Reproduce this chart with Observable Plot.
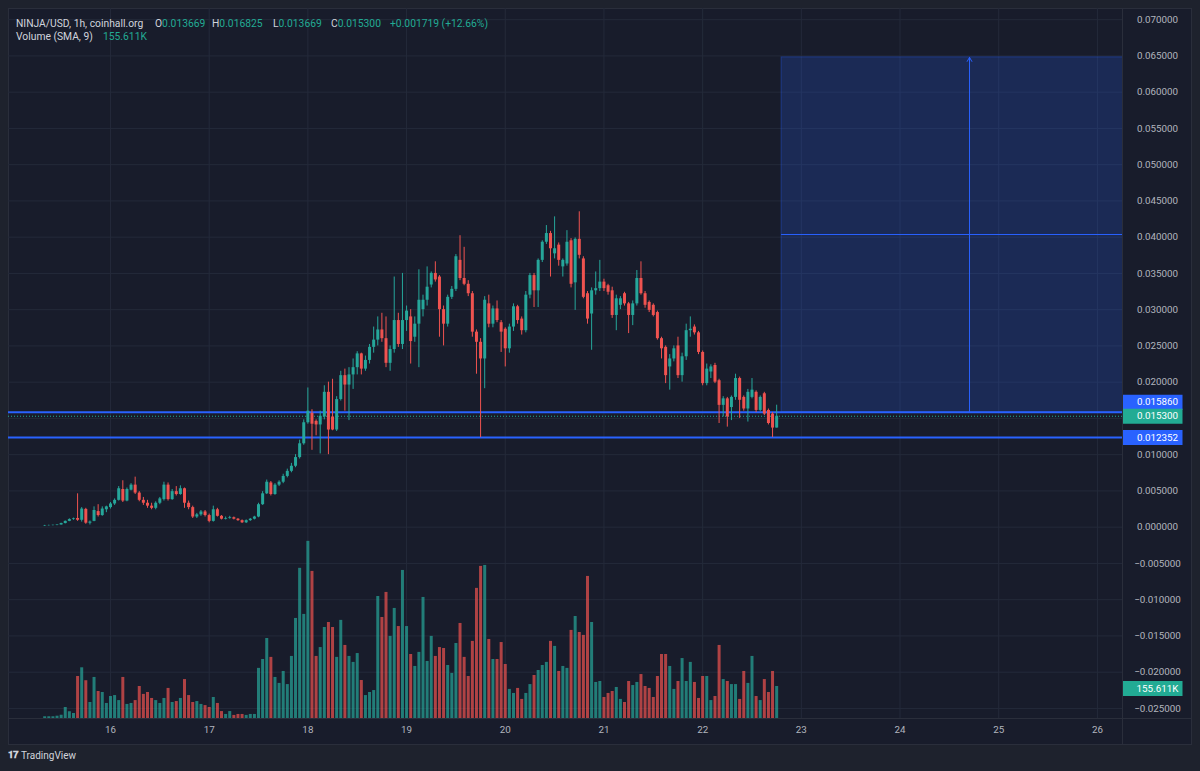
<!DOCTYPE html>
<html><head><meta charset="utf-8">
<script src="https://cdn.jsdelivr.net/npm/d3@7"></script>
<script src="https://cdn.jsdelivr.net/npm/@observablehq/plot@0.6"></script>
<style>
html,body{margin:0;padding:0;background:#1e222d;width:1200px;height:771px;overflow:hidden;font-family:Roboto,"Liberation Sans",sans-serif;}
#pane{position:absolute;left:8px;top:8px;width:1184px;height:737px;box-sizing:border-box;background:#181c2b;border:1px solid #2a2e3b;}
#sepV{position:absolute;left:1122px;top:8px;width:1px;height:737px;background:#2a2e3b;}
#sepH{position:absolute;left:8px;top:718px;width:1184px;height:1px;background:#2a2e3b;}
.layer{position:absolute;left:8px;top:8px;}
#vol{pointer-events:none;}
.hd{position:absolute;font-size:10.3px;line-height:13px;color:#d1d4dc;white-space:pre;}
.hd .v{color:#22ab94;}
#footer{position:absolute;left:8px;top:749px;font-size:10px;color:#d1d4dc;display:flex;align-items:center;gap:3px;}
#footer b{font-size:10px;letter-spacing:-1px;}
</style></head>
<body>
<div id="pane"></div>
<div id="price" class="layer"></div>
<div id="vol" class="layer"></div>
<div id="sepV"></div><div id="sepH"></div>
<div class="hd" style="left:16px;top:17px">NINJA/USD, 1h, coinhall.org</div>
<div class="hd" style="left:155px;top:17px">O<span class="v">0.013669</span></div>
<div class="hd" style="left:212px;top:17px">H<span class="v">0.016825</span></div>
<div class="hd" style="left:273px;top:17px">L<span class="v">0.013669</span></div>
<div class="hd" style="left:331px;top:17px">C<span class="v">0.015300</span></div>
<div class="hd" style="left:390px;top:17px"><span class="v">+0.001719 (+12.66%)</span></div>
<div class="hd" style="left:16px;top:30px">Volume (SMA, 9)</div>
<div class="hd" style="left:103px;top:30px"><span class="v">155.611K</span></div>
<div id="footer"><b>𝟏𝟕</b><span>TradingView</span></div>
<script>
// ---- data (hourly candles, first candle 15 Jul 08:00 UTC) ----
const open = [0.00015,0.00020,0.00022,0.00025,0.00030,0.00050,0.00080,0.00105,0.00120,0.00095,0.00245,0.00055,0.00080,0.00215,0.00160,0.00240,0.00270,0.00320,0.00370,0.00520,0.00360,0.00510,0.00580,0.00470,0.00370,0.00330,0.00290,0.00260,0.00330,0.00380,0.00580,0.00380,0.00490,0.00450,0.00530,0.00330,0.00270,0.00140,0.00170,0.00210,0.00160,0.00080,0.00240,0.00150,0.00110,0.00120,0.00130,0.00110,0.00090,0.00060,0.00090,0.00110,0.00140,0.00310,0.00460,0.00610,0.00450,0.00580,0.00620,0.00700,0.00770,0.00840,0.00960,0.01150,0.01440,0.01570,0.01460,0.01410,0.01520,0.01860,0.01520,0.01340,0.01760,0.02090,0.01960,0.02100,0.02200,0.02390,0.02180,0.02300,0.02480,0.02580,0.02720,0.02600,0.02260,0.02450,0.02850,0.02520,0.02850,0.02900,0.02620,0.02800,0.03000,0.03130,0.03340,0.03500,0.03450,0.03000,0.02800,0.03170,0.03280,0.03680,0.03430,0.03350,0.03220,0.02690,0.02550,0.02320,0.03080,0.02800,0.03010,0.02820,0.02730,0.02460,0.02760,0.03040,0.02870,0.02710,0.03200,0.03470,0.03260,0.03680,0.03930,0.04050,0.03770,0.03890,0.03590,0.03630,0.03950,0.03370,0.03970,0.03700,0.03220,0.02940,0.03260,0.03290,0.03380,0.03330,0.03260,0.02920,0.03060,0.03220,0.03080,0.02920,0.03080,0.03430,0.03220,0.03100,0.03060,0.02960,0.02600,0.02480,0.02210,0.02320,0.02500,0.02090,0.02350,0.02710,0.02760,0.02680,0.02410,0.01980,0.02140,0.02230,0.02020,0.01680,0.01770,0.01650,0.01790,0.02050,0.01790,0.01630,0.01790,0.01860,0.01610,0.01840,0.01610,0.01560,0.013669];
const high = [0.00025,0.00028,0.00030,0.00035,0.00055,0.00085,0.00115,0.00125,0.00460,0.00270,0.00260,0.00085,0.00280,0.00310,0.00280,0.00290,0.00340,0.00390,0.00560,0.00640,0.00540,0.00600,0.00690,0.00490,0.00410,0.00370,0.00330,0.00350,0.00410,0.00620,0.00610,0.00520,0.00560,0.00570,0.00540,0.00360,0.00290,0.00190,0.00230,0.00230,0.00180,0.00290,0.00260,0.00160,0.00140,0.00150,0.00140,0.00120,0.00100,0.00100,0.00120,0.00150,0.00330,0.00490,0.00650,0.00630,0.00600,0.00640,0.00730,0.00800,0.00880,0.01000,0.01200,0.01480,0.01920,0.01620,0.01480,0.01600,0.01950,0.02000,0.02040,0.01800,0.02150,0.02180,0.02200,0.02320,0.02420,0.02400,0.02360,0.02520,0.02760,0.02900,0.02950,0.02900,0.02500,0.03450,0.02950,0.03500,0.03050,0.03000,0.02900,0.03550,0.03200,0.03590,0.03520,0.03660,0.03470,0.03050,0.03200,0.03320,0.03760,0.04020,0.03860,0.03400,0.03250,0.02720,0.02600,0.03180,0.03200,0.03050,0.03120,0.02850,0.02750,0.02800,0.03080,0.03060,0.02900,0.03250,0.03500,0.03500,0.03700,0.03950,0.04160,0.04080,0.04280,0.03920,0.03700,0.04090,0.03980,0.03990,0.04350,0.03730,0.03250,0.03300,0.03520,0.03680,0.03420,0.03350,0.03310,0.03200,0.03180,0.03240,0.03100,0.03120,0.03540,0.03660,0.03250,0.03120,0.03080,0.02980,0.02620,0.02500,0.02380,0.02500,0.02620,0.02400,0.02800,0.02900,0.02790,0.02700,0.02430,0.02250,0.02240,0.02260,0.02040,0.01800,0.01790,0.01810,0.02110,0.02070,0.01810,0.01900,0.02050,0.01880,0.01810,0.01860,0.01630,0.01580,0.016825];
const low = [0.00010,0.00015,0.00018,0.00020,0.00028,0.00045,0.00075,0.00095,0.00080,0.00070,0.00040,0.00030,0.00075,0.00140,0.00150,0.00200,0.00250,0.00300,0.00360,0.00340,0.00350,0.00500,0.00450,0.00350,0.00300,0.00260,0.00240,0.00240,0.00310,0.00360,0.00360,0.00370,0.00430,0.00440,0.00260,0.00240,0.00120,0.00120,0.00150,0.00140,0.00060,0.00070,0.00140,0.00100,0.00100,0.00110,0.00100,0.00080,0.00050,0.00050,0.00080,0.00100,0.00130,0.00300,0.00450,0.00430,0.00440,0.00560,0.00600,0.00680,0.00750,0.00820,0.00940,0.01130,0.01420,0.01060,0.01260,0.01010,0.01480,0.01000,0.01330,0.01320,0.01740,0.01600,0.01470,0.01900,0.02100,0.02100,0.02150,0.02250,0.02400,0.02500,0.02550,0.02200,0.02150,0.02400,0.02480,0.02450,0.02700,0.02250,0.02550,0.02200,0.02900,0.03050,0.03300,0.03380,0.02620,0.02500,0.02760,0.03140,0.03250,0.03400,0.03330,0.03180,0.02620,0.02110,0.012352,0.01910,0.02750,0.02750,0.02820,0.02410,0.02210,0.02400,0.02700,0.02800,0.02650,0.02680,0.03150,0.03030,0.03030,0.03650,0.03900,0.03450,0.03700,0.03600,0.03450,0.03600,0.03300,0.02990,0.03700,0.03150,0.02800,0.02440,0.03200,0.03250,0.03250,0.03200,0.02880,0.02710,0.03000,0.03050,0.02670,0.02780,0.03050,0.03200,0.03020,0.02960,0.02900,0.02580,0.02320,0.01980,0.01890,0.02280,0.02050,0.02000,0.02300,0.02620,0.02650,0.02380,0.01950,0.01950,0.02050,0.01980,0.01430,0.01520,0.01380,0.01470,0.01750,0.01500,0.01600,0.01450,0.01770,0.01580,0.01590,0.01540,0.01410,0.01236,0.013669];
const close = [0.00020,0.00022,0.00025,0.00030,0.00050,0.00080,0.00105,0.00115,0.00095,0.00250,0.00055,0.00070,0.00230,0.00160,0.00250,0.00280,0.00320,0.00370,0.00530,0.00360,0.00520,0.00580,0.00470,0.00370,0.00330,0.00290,0.00260,0.00330,0.00390,0.00580,0.00380,0.00490,0.00450,0.00530,0.00330,0.00270,0.00140,0.00170,0.00210,0.00160,0.00080,0.00240,0.00150,0.00110,0.00120,0.00130,0.00110,0.00090,0.00060,0.00090,0.00110,0.00140,0.00310,0.00460,0.00620,0.00450,0.00580,0.00620,0.00700,0.00770,0.00840,0.00960,0.01150,0.01440,0.01600,0.01420,0.01410,0.01530,0.01860,0.01340,0.01340,0.01760,0.02090,0.01960,0.02100,0.02200,0.02390,0.02180,0.02300,0.02480,0.02580,0.02720,0.02600,0.02260,0.02450,0.02850,0.02520,0.02850,0.02980,0.02560,0.02800,0.03130,0.03130,0.03310,0.03500,0.03410,0.03000,0.02800,0.03170,0.03280,0.03730,0.03430,0.03350,0.03220,0.02690,0.02550,0.02320,0.03130,0.02800,0.03010,0.02850,0.02690,0.02460,0.02760,0.03040,0.02850,0.02710,0.03200,0.03470,0.03260,0.03680,0.03930,0.04050,0.03840,0.03840,0.03680,0.03680,0.03930,0.03350,0.03970,0.03750,0.03170,0.02870,0.03260,0.03290,0.03380,0.03290,0.03240,0.02920,0.03150,0.03150,0.03080,0.02920,0.03080,0.03430,0.03220,0.03060,0.02990,0.02920,0.02600,0.02460,0.02090,0.02320,0.02460,0.02090,0.02350,0.02710,0.02730,0.02680,0.02410,0.01980,0.02180,0.02210,0.02000,0.01680,0.01770,0.01520,0.01790,0.02050,0.01750,0.01630,0.01860,0.01890,0.01610,0.01790,0.01560,0.01430,0.013669,0.01530];
const volumeK = [9,9,9,12,17,57,35,26,218,263,196,83,213,140,135,78,114,119,93,213,73,78,93,166,125,135,104,93,78,104,156,83,88,104,202,119,83,88,73,67,57,109,78,36,21,36,16,21,21,16,21,21,260,306,415,317,213,182,244,176,322,519,779,540,919,763,322,368,472,498,472,317,509,379,322,291,337,197,119,135,145,633,524,654,426,571,477,768,477,332,270,343,628,296,426,322,368,363,275,234,389,493,317,218,400,675,789,794,410,306,306,394,280,151,130,156,99,130,176,223,249,275,291,400,374,244,270,260,457,529,446,431,737,498,187,192,109,130,140,161,99,83,192,171,187,228,166,156,109,218,332,332,270,151,192,311,192,291,187,104,218,218,93,114,379,202,192,176,176,99,244,182,322,114,93,202,135,244,166];
const priceTicks = [-0.025,-0.020,-0.015,-0.010,-0.005,0,0.005,0.010,0.015,0.020,0.025,0.030,0.035,0.040,0.045,0.050,0.055,0.060,0.065,0.070];
const dayTicks = [16,17,18,19,20,21,22,23,24,25,26].map(d => new Date(Date.UTC(2023,6,d)));
const levels = [0.015860, 0.012352];
const lastPrice = [0.015300];
const box = [{t1:new Date(Date.UTC(2023,6,22,19,12)), t2:new Date(Date.UTC(2023,6,27)), lo:0.01586, hi:0.0648, mid:0.04037}];
const arrowLine = [{t:new Date(Date.UTC(2023,6,24,16,54)), from:0.01586, to:0.0648}];
const tags = [
  {v:0.015860, label:"0.015860", color:"#2962ff", dy:-10},
  {v:0.015300, label:"0.015300", color:"#22ab94", dy:0},
  {v:0.012352, label:"0.012352", color:"#2962ff", dy:0}
];
const volTag = [{v:155.611, label:"155.611K"}];

// ---- layout ----
const W = 1184, H = 737, mR = 70, mB = 27;
const t0 = Date.UTC(2023,6,15,8);
const times = open.map((_, i) => new Date(t0 + i*3600e3));
const idx = d3.range(open.length);
const up = idx.filter(i => close[i] >= open[i]);
const dn = idx.filter(i => close[i] < open[i]);
const xDomain = [new Date(Date.UTC(2023,6,14,23,12)), new Date(Date.UTC(2023,6,26,6,6))];
const GREEN = "#26a69a", RED = "#ef5350", GRID = "#242a3a", BLUE = "#2962ff";
const tagSymbol = {draw(ctx){ctx.moveTo(-35,-7.5);ctx.lineTo(25,-7.5);ctx.lineTo(25,7.5);ctx.lineTo(-35,7.5);ctx.closePath();}};
const fontStyle = {background:"transparent", color:"#b2b5be", fontSize:"9.8px", fontFamily:"Roboto, 'Liberation Sans', sans-serif"};

function tagMarks(t, color){
  return [
    Plot.dot([t], {y:"v", frameAnchor:"right", dx:35, dy:t.dy||0, symbol:tagSymbol, fill:color, stroke:"none", r:5}),
    Plot.text([t], {y:"v", text:"label", frameAnchor:"right", dx:35, dy:t.dy||0, fill:"#ffffff", textAnchor:"middle", fontSize:9.8})
  ];
}

const price = Plot.plot({
  width:W, height:H, marginLeft:0, marginTop:0, marginRight:mR, marginBottom:mB,
  style:fontStyle,
  x:{type:"utc", domain:xDomain},
  y:{domain:[-0.02639, 0.07154]},
  marks:[
    Plot.ruleY(priceTicks, {stroke:GRID}),
    Plot.ruleX(dayTicks, {stroke:GRID}),
    Plot.rect(box, {x1:"t1", x2:"t2", y1:"lo", y2:"hi", fill:BLUE, fillOpacity:0.2, stroke:BLUE, strokeOpacity:0.35, clip:true}),
    Plot.ruleY(box, {y:"mid", x1:"t1", x2:"t2", stroke:BLUE, strokeWidth:1, clip:true}),
    Plot.arrow(arrowLine, {x1:"t", x2:"t", y1:"from", y2:"to", stroke:BLUE, strokeWidth:1, headLength:7, bend:0}),
    Plot.ruleY(levels, {stroke:BLUE, strokeWidth:2}),
    Plot.ruleY(lastPrice, {stroke:"#22ab94", strokeDasharray:"1,2", strokeWidth:1}),
    Plot.ruleX(up, {x:i=>times[i], y1:i=>low[i], y2:i=>high[i], stroke:GREEN, strokeWidth:1}),
    Plot.ruleX(dn, {x:i=>times[i], y1:i=>low[i], y2:i=>high[i], stroke:RED, strokeWidth:1}),
    Plot.ruleX(up, {x:i=>times[i], y1:i=>open[i], y2:i=>close[i], stroke:GREEN, strokeWidth:3}),
    Plot.ruleX(dn, {x:i=>times[i], y1:i=>open[i], y2:i=>close[i], stroke:RED, strokeWidth:3}),
    Plot.axisY({anchor:"right", ticks:priceTicks, tickSize:0, tickPadding:35, textAnchor:"middle", tickFormat:d3.format(".6f"), label:null, fill:"#b2b5be"}),
    Plot.axisX({ticks:dayTicks, tickSize:0, tickPadding:8, tickFormat:d3.utcFormat("%-d"), label:null, fill:"#b2b5be"}),
    ...tagMarks(tags[0], tags[0].color),
    ...tagMarks(tags[1], tags[1].color),
    ...tagMarks(tags[2], tags[2].color)
  ]
});
document.getElementById("price").appendChild(price);

const vol = Plot.plot({
  width:W, height:H, marginLeft:0, marginTop:0, marginRight:mR, marginBottom:mB,
  style:fontStyle,
  x:{type:"utc", domain:xDomain, axis:null},
  y:{domain:[0, 3683], axis:null},
  marks:[
    Plot.ruleX(up, {x:i=>times[i], y1:0, y2:i=>volumeK[i], stroke:GREEN, strokeOpacity:0.7, strokeWidth:3}),
    Plot.ruleX(dn, {x:i=>times[i], y1:0, y2:i=>volumeK[i], stroke:RED, strokeOpacity:0.7, strokeWidth:3}),
    Plot.dot(volTag, {y:"v", frameAnchor:"right", dx:35, symbol:tagSymbol, fill:"#22ab94", stroke:"none", r:5}),
    Plot.text(volTag, {y:"v", text:"label", frameAnchor:"right", dx:35, fill:"#ffffff", textAnchor:"middle", fontSize:9.8})
  ]
});
document.getElementById("vol").appendChild(vol);
</script>
</body></html>
